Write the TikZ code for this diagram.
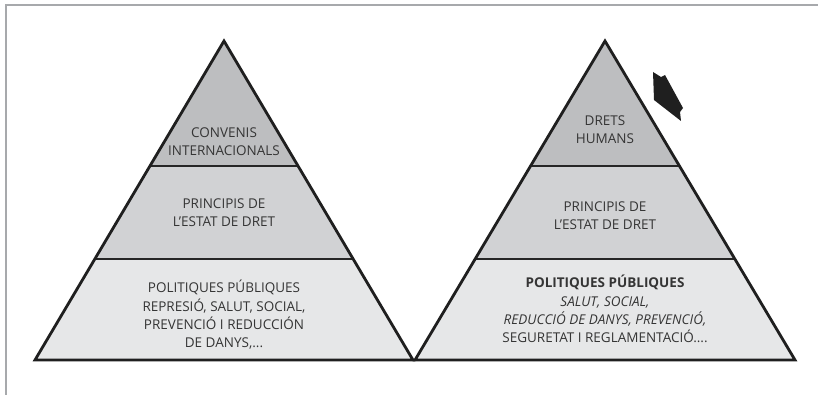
\documentclass[tikz,border=0pt]{standalone}
\usepackage{fontspec}
\setmainfont{Open Sans}
\definecolor{tiertop}{HTML}{BDBEC0}
\definecolor{tiermid}{HTML}{D1D2D4}
\definecolor{tierlow}{HTML}{E6E7E8}
\definecolor{inkgray}{HTML}{353535}
\definecolor{framegray}{HTML}{A7A9AC}
\tikzstyle{tiertext} = [align=center, text=inkgray, inner sep=0pt, font=\fontsize{13.5}{18.3}\selectfont]
\tikzstyle{outline} = [line width=2.8pt, draw=black!88, line join=miter]
\tikzstyle{divider} = [line width=1.3pt, draw=black!85]

\begin{document}
\begin{tikzpicture}[x=1pt, y=-1pt]
        \useasboundingbox (0,0) rectangle (818,395);
        \fill[white] (0,0) rectangle (818,395);
        \draw[framegray, line width=2pt] (6,395) -- (6,5) -- (818,5);

        % the two pyramids
        \foreach \cx/\hw in {224/189, 605/190} {
            \begin{scope}
                \clip (\cx,41) -- (\cx+\hw,360) -- (\cx-\hw,360) -- cycle;
                \fill[tiertop] (\cx-\hw,30) rectangle (\cx+\hw,166);
                \fill[tiermid] (\cx-\hw,166) rectangle (\cx+\hw,259);
                \fill[tierlow] (\cx-\hw,259) rectangle (\cx+\hw,365);
                \draw[divider] (\cx-\hw,166) -- (\cx+\hw,166);
                \draw[divider] (\cx-\hw,259) -- (\cx+\hw,259);
            \end{scope}
            \draw[outline] (\cx,41) -- (\cx+\hw,360) -- (\cx-\hw,360) -- cycle;
        }

        % left pyramid
        \node (conv) [tiertext] at (224,142) {CONVENIS\\INTERNACIONALS};
        \node (estatl) [tiertext] at (224,213) {PRINCIPIS DE\\L'ESTAT DE DRET};
        \node (polil) [tiertext] at (224,315) {POLITIQUES PÚBLIQUES\\REPRESIÓ, SALUT, SOCIAL,\\PREVENCIÓ I REDUCCIÓN\\DE DANYS,...};

        % right pyramid
        \node (drets) [tiertext] at (605,130) {DRETS\\HUMANS};
        \node (estatr) [tiertext] at (605,216) {PRINCIPIS DE\\L'ESTAT DE DRET};
        \node (polir) [tiertext] at (605,309) {\textbf{POLITIQUES PÚBLIQUES}\\\textit{SALUT, SOCIAL,}\\\textit{REDUCCIÓ DE DANYS, PREVENCIÓ,}\\SEGURETAT I REGLAMENTACIÓ....};

        \fill[black!88] (653,72) -- (661,77) -- (665,75) -- (683,108) -- (680,112) -- (681,121) -- (654,100) -- cycle;
    \end{tikzpicture}
\end{document}
